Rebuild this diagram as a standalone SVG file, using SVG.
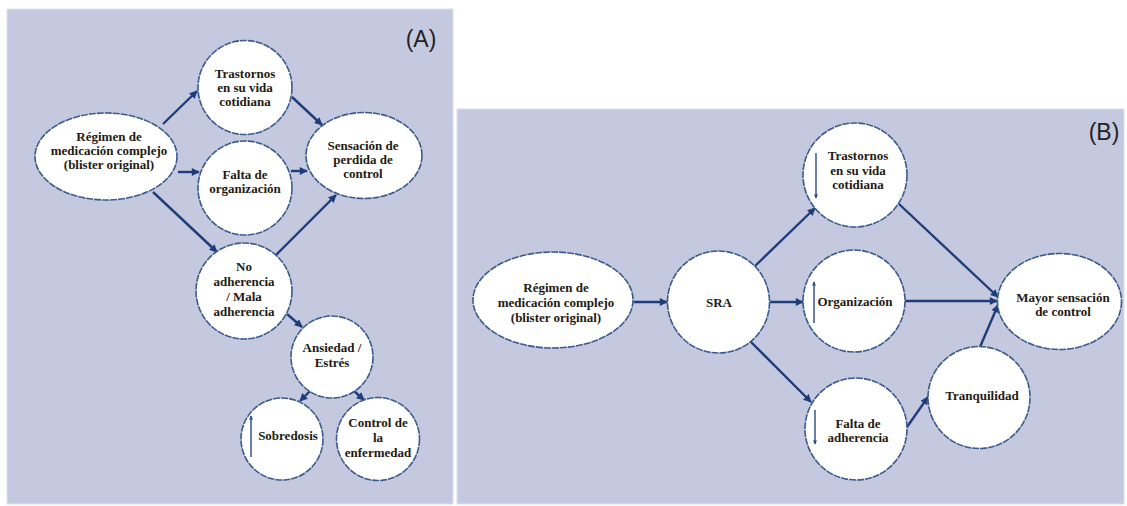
<svg xmlns="http://www.w3.org/2000/svg" width="1127" height="506" viewBox="0 0 1127 506">
<defs>
<marker id="ah" viewBox="0 0 10 10" refX="9" refY="5" markerWidth="9" markerHeight="8" markerUnits="userSpaceOnUse" orient="auto">
<path d="M0,0 L10,5 L0,10 z" fill="#1f3d7a"/>
</marker>
<marker id="ahs" viewBox="0 0 10 10" refX="9" refY="5" markerWidth="5" markerHeight="4" markerUnits="userSpaceOnUse" orient="auto">
<path d="M0,0 L10,5 L0,10 z" fill="#2a4a85"/>
</marker>
<style>
.panel{fill:#c5c9df;stroke:#dcdfec;stroke-width:1}
.node{fill:#ffffff;stroke:#3d5a8c;stroke-width:1.6;stroke-dasharray:7 1}
.t{fill:#231a12;text-anchor:middle}
.lbl{fill:#222222;text-anchor:middle}
.c{stroke:#1f3d7a;stroke-width:2.4;fill:none;marker-end:url(#ah)}
.s{stroke:#2a4a85;stroke-width:1.4;fill:none;marker-end:url(#ahs)}
</style>
</defs>
<rect width="1127" height="506" fill="#ffffff"/>
<rect class="panel" x="7" y="9" width="446" height="495"/>
<rect class="panel" x="457" y="109" width="667" height="395"/>
<g font-family="Liberation Sans, Arial, sans-serif" font-size="23">
<text class="lbl" x="421" y="47">(A)</text>
<text class="lbl" x="1104" y="140">(B)</text>
</g>

<g id="connectors">
<line class="c" x1="163" y1="124" x2="197" y2="91"/>
<line class="c" x1="178" y1="172" x2="199" y2="172"/>
<line class="c" x1="153" y1="192" x2="217" y2="252"/>
<line class="c" x1="292" y1="97" x2="322" y2="125"/>
<line class="c" x1="291" y1="171" x2="307" y2="171"/>
<line class="c" x1="276" y1="255" x2="336" y2="195"/>
<line class="c" x1="287" y1="314" x2="302" y2="327"/>
<line class="c" x1="310" y1="391" x2="300" y2="401"/>
<line class="c" x1="354" y1="391" x2="364" y2="400"/>
<line class="c" x1="634" y1="302" x2="667" y2="302"/>
<line class="c" x1="755" y1="266" x2="815" y2="208"/>
<line class="c" x1="770" y1="302" x2="803" y2="302"/>
<line class="c" x1="751" y1="342" x2="811" y2="402"/>
<line class="c" x1="899" y1="204" x2="998" y2="297"/>
<line class="c" x1="905" y1="301" x2="997" y2="301"/>
<line class="c" x1="907" y1="427" x2="928" y2="397"/>
<line class="c" x1="980" y1="347" x2="998" y2="305"/>
</g>

<g id="nodes" font-family="Liberation Serif, Times New Roman, serif" font-weight="bold" font-size="13">
<g id="a-regimen">
<ellipse class="node" cx="106" cy="156.5" rx="71" ry="43.5"/>
<text class="t" x="109" y="141">Régimen de</text>
<text class="t" x="109" y="155">medicación complejo</text>
<text class="t" x="109" y="169">(blister original)</text>
</g>
<g id="a-trastornos">
<circle class="node" cx="245" cy="87.5" r="47"/>
<text class="t" x="245" y="78">Trastornos</text>
<text class="t" x="245" y="92">en su vida</text>
<text class="t" x="245" y="106">cotidiana</text>
</g>
<g id="a-falta">
<circle class="node" cx="245" cy="188" r="47"/>
<text class="t" x="245" y="179">Falta de</text>
<text class="t" x="245" y="193">organización</text>
</g>
<g id="a-sensacion">
<ellipse class="node" cx="364" cy="155.5" rx="58" ry="43"/>
<text class="t" x="363" y="150">Sensación de</text>
<text class="t" x="363" y="164">perdida de</text>
<text class="t" x="363" y="178">control</text>
</g>
<g id="a-noadherencia">
<circle class="node" cx="244" cy="291" r="48"/>
<text class="t" x="244" y="271">No</text>
<text class="t" x="244" y="286">adherencia</text>
<text class="t" x="244" y="301">/ Mala</text>
<text class="t" x="244" y="316">adherencia</text>
</g>
<g id="a-ansiedad">
<circle class="node" cx="332" cy="357" r="41"/>
<text class="t" x="332" y="352">Ansiedad /</text>
<text class="t" x="332" y="367">Estrés</text>
</g>
<g id="a-sobredosis">
<circle class="node" cx="282" cy="439" r="41"/>
<line class="s" x1="251" y1="457" x2="251" y2="416"/>
<text class="t" x="288" y="440">Sobredosis</text>
</g>
<g id="a-control">
<circle class="node" cx="378" cy="439" r="41.5"/>
<text class="t" x="378" y="427">Control de</text>
<text class="t" x="378" y="442">la</text>
<text class="t" x="378" y="457">enfermedad</text>
</g>

<g id="b-regimen">
<ellipse class="node" cx="553" cy="300" rx="80" ry="48"/>
<text class="t" x="556" y="292">Régimen de</text>
<text class="t" x="556" y="307">medicación complejo</text>
<text class="t" x="556" y="322">(blister original)</text>
</g>
<g id="b-sra">
<circle class="node" cx="718.5" cy="302" r="51"/>
<text class="t" x="719" y="307">SRA</text>
</g>
<g id="b-trastornos">
<circle class="node" cx="855" cy="175" r="52"/>
<line class="s" x1="816" y1="153" x2="816" y2="198"/>
<text class="t" x="858" y="160">Trastornos</text>
<text class="t" x="858" y="175">en su vida</text>
<text class="t" x="858" y="189">cotidiana</text>
</g>
<g id="b-organizacion">
<circle class="node" cx="854" cy="301" r="51"/>
<line class="s" x1="814" y1="323" x2="814" y2="282"/>
<text class="t" x="855" y="306">Organización</text>
</g>
<g id="b-falta">
<circle class="node" cx="856" cy="429" r="51"/>
<line class="s" x1="815" y1="410" x2="815" y2="444"/>
<text class="t" x="858" y="428">Falta de</text>
<text class="t" x="858" y="442">adherencia</text>
</g>
<g id="b-tranquilidad">
<circle class="node" cx="979" cy="397.5" r="51"/>
<text class="t" x="982" y="400">Tranquilidad</text>
</g>
<g id="b-mayor">
<ellipse class="node" cx="1059.5" cy="301.5" rx="62" ry="48"/>
<text class="t" x="1063" y="302">Mayor sensación</text>
<text class="t" x="1063" y="316">de control</text>
</g>
</g>
</svg>
